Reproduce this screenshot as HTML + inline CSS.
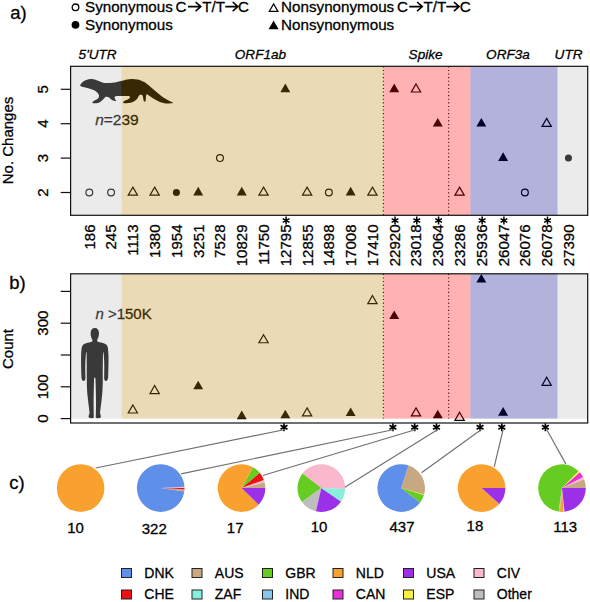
<!DOCTYPE html><html><head><meta charset="utf-8"><style>html,body{margin:0;padding:0;background:#fff;}svg{display:block;}</style></head><body>
<svg width="590" height="602" viewBox="0 0 590 602" style="font-family:&quot;Liberation Sans&quot;, sans-serif">
<style>text{stroke:#000;stroke-width:0.28px;paint-order:stroke}</style>
<rect width="590" height="602" fill="#fff"/>
<circle cx="75.5" cy="7.3" r="3.3" fill="none" stroke="#000" stroke-width="1.3"/>
<circle cx="75.5" cy="24.8" r="3.9" fill="#000"/>
<text x="85.0" y="11.9" font-size="15.2" fill="#000">Synonymous</text>
<text x="175.4" y="11.9" font-size="15.2" fill="#000">C</text>
<path d="M188.00,6.60 L200.80,6.60 M195.60,2.00 L200.80,6.60 L195.60,11.20" fill="none" stroke="#000" stroke-width="1.6" stroke-linejoin="miter"/>
<text x="202.2" y="11.9" font-size="15.2" fill="#000">T/T</text>
<path d="M225.30,6.60 L237.90,6.60 M232.70,2.00 L237.90,6.60 L232.70,11.20" fill="none" stroke="#000" stroke-width="1.6" stroke-linejoin="miter"/>
<text x="237.9" y="11.9" font-size="15.2" fill="#000">C</text>
<text x="85.0" y="30.1" font-size="15.2" fill="#000">Synonymous</text>
<polygon points="273.60,3.85 277.98,11.43 269.22,11.43" fill="none" stroke="#000" stroke-width="1.2"/>
<polygon points="273.60,20.55 278.58,29.18 268.62,29.18" fill="#000"/>
<text x="281.1" y="11.9" font-size="15.2" fill="#000">Nonsynonymous</text>
<text x="397.1" y="11.9" font-size="15.2" fill="#000">C</text>
<path d="M409.30,6.60 L422.30,6.60 M417.10,2.00 L422.30,6.60 L417.10,11.20" fill="none" stroke="#000" stroke-width="1.6" stroke-linejoin="miter"/>
<text x="423.4" y="11.9" font-size="15.2" fill="#000">T/T</text>
<path d="M446.30,6.60 L459.10,6.60 M453.90,2.00 L459.10,6.60 L453.90,11.20" fill="none" stroke="#000" stroke-width="1.6" stroke-linejoin="miter"/>
<text x="459.8" y="11.9" font-size="15.2" fill="#000">C</text>
<text x="281.1" y="30.1" font-size="15.2" fill="#000">Nonsynonymous</text>
<text x="10.2" y="19.0" font-size="18.5" fill="#000">a)</text>
<text x="9.2" y="289.2" font-size="18.5" fill="#000">b)</text>
<text x="9.2" y="488.8" font-size="18.5" fill="#000">c)</text>
<text x="78.6" y="59.3" font-size="13.6" font-style="italic" fill="#000">5'UTR</text>
<text x="234.8" y="59.3" font-size="13.6" font-style="italic" fill="#000">ORF1ab</text>
<text x="408.6" y="59.3" font-size="13.6" font-style="italic" fill="#000">Spike</text>
<text x="486.1" y="59.3" font-size="13.6" font-style="italic" fill="#000">ORF3a</text>
<text x="554.6" y="59.3" font-size="13.6" font-style="italic" fill="#000">UTR</text>
<path d="M80.20,85.20 C80.32,84.53 81.20,83.27 82.20,82.40 C83.20,81.53 84.70,80.57 86.20,80.00 C87.70,79.43 89.65,79.05 91.20,79.00 C92.75,78.95 93.95,79.23 95.50,79.70 C97.05,80.17 99.00,81.27 100.50,81.80 C102.00,82.33 102.53,82.73 104.50,82.90 C106.47,83.07 109.13,83.22 112.30,82.80 C115.47,82.38 120.40,81.02 123.50,80.40 C126.60,79.78 128.57,79.23 130.90,79.10 C133.23,78.97 135.68,79.28 137.50,79.60 C139.32,79.92 140.38,80.40 141.80,81.00 C143.22,81.60 144.08,81.83 146.00,83.20 C147.92,84.57 151.20,87.43 153.30,89.20 C155.40,90.97 157.05,92.50 158.60,93.80 C160.15,95.10 160.68,95.75 162.60,97.00 C164.52,98.25 168.38,100.30 170.10,101.30 C171.82,102.30 173.83,102.67 172.90,103.00 C171.97,103.33 167.15,103.70 164.50,103.30 C161.85,102.90 159.48,101.82 157.00,100.60 C154.52,99.38 151.28,97.07 149.60,96.00 C147.92,94.93 147.50,94.12 146.90,94.20 C146.30,94.28 146.23,95.35 146.00,96.50 C145.77,97.65 145.87,100.33 145.50,101.10 C145.13,101.87 144.25,101.92 143.80,101.10 C143.35,100.28 143.18,97.25 142.80,96.20 C142.42,95.15 142.08,94.97 141.50,94.80 C140.92,94.63 140.08,94.47 139.30,95.20 C138.52,95.93 138.10,97.97 136.80,99.20 C135.50,100.43 133.13,101.93 131.50,102.60 C129.87,103.27 128.33,103.13 127.00,103.20 C125.67,103.27 124.03,103.32 123.50,103.00 C122.97,102.68 122.92,102.00 123.80,101.30 C124.68,100.60 127.87,99.65 128.80,98.80 C129.73,97.95 130.60,96.65 129.40,96.20 C128.20,95.75 123.98,96.05 121.60,96.10 C119.22,96.15 116.18,95.98 115.10,96.50 C114.02,97.02 114.92,98.45 115.10,99.20 C115.28,99.95 116.67,100.83 116.20,101.00 C115.73,101.17 113.57,100.83 112.30,100.20 C111.03,99.57 109.65,97.77 108.60,97.20 C107.55,96.63 106.85,96.50 106.00,96.80 C105.15,97.10 104.70,98.00 103.50,99.00 C102.30,100.00 100.60,102.10 98.80,102.80 C97.00,103.50 93.60,103.45 92.70,103.20 C91.80,102.95 92.52,102.07 93.40,101.30 C94.28,100.53 97.07,99.57 98.00,98.60 C98.93,97.63 99.13,96.53 99.00,95.50 C98.87,94.47 98.12,93.32 97.20,92.40 C96.28,91.48 94.83,90.63 93.50,90.00 C92.17,89.37 90.58,89.03 89.20,88.60 C87.82,88.17 86.48,87.77 85.20,87.40 C83.92,87.03 82.33,86.77 81.50,86.40 C80.67,86.03 80.08,85.87 80.20,85.20 Z" fill="#000"/>
<text x="95.2" y="125.0" font-size="15.5" fill="#000"><tspan font-style="italic">n</tspan>=239</text>
<circle cx="89.30" cy="192.50" r="3.40" fill="none" stroke="#000" stroke-width="1.2"/>
<circle cx="111.08" cy="192.50" r="3.40" fill="none" stroke="#000" stroke-width="1.2"/>
<polygon points="132.86,187.13 137.51,195.18 128.21,195.18" fill="none" stroke="#000" stroke-width="1.2"/>
<polygon points="154.64,187.13 159.29,195.18 149.99,195.18" fill="none" stroke="#000" stroke-width="1.2"/>
<circle cx="176.42" cy="192.50" r="3.52" fill="#000"/>
<polygon points="198.20,186.75 203.18,195.38 193.22,195.38" fill="#000"/>
<circle cx="219.98" cy="158.10" r="3.40" fill="none" stroke="#000" stroke-width="1.2"/>
<polygon points="241.76,186.75 246.74,195.38 236.78,195.38" fill="#000"/>
<polygon points="263.54,187.13 268.19,195.18 258.89,195.18" fill="none" stroke="#000" stroke-width="1.2"/>
<polygon points="285.32,83.55 290.30,92.18 280.34,92.18" fill="#000"/>
<polygon points="307.10,187.13 311.75,195.18 302.45,195.18" fill="none" stroke="#000" stroke-width="1.2"/>
<circle cx="328.88" cy="192.50" r="3.40" fill="none" stroke="#000" stroke-width="1.2"/>
<polygon points="350.66,186.75 355.64,195.38 345.68,195.38" fill="#000"/>
<polygon points="372.44,187.13 377.09,195.18 367.79,195.18" fill="none" stroke="#000" stroke-width="1.2"/>
<polygon points="394.22,83.55 399.20,92.18 389.24,92.18" fill="#000"/>
<polygon points="416.00,83.93 420.65,91.98 411.35,91.98" fill="none" stroke="#000" stroke-width="1.2"/>
<polygon points="437.78,117.95 442.76,126.58 432.80,126.58" fill="#000"/>
<polygon points="459.56,187.13 464.21,195.18 454.91,195.18" fill="none" stroke="#000" stroke-width="1.2"/>
<polygon points="481.34,117.95 486.32,126.58 476.36,126.58" fill="#000"/>
<polygon points="503.12,152.35 508.10,160.98 498.14,160.98" fill="#000"/>
<circle cx="524.90" cy="192.50" r="3.40" fill="none" stroke="#000" stroke-width="1.2"/>
<polygon points="546.68,118.33 551.33,126.38 542.03,126.38" fill="none" stroke="#000" stroke-width="1.2"/>
<circle cx="568.46" cy="158.10" r="3.52" fill="#000"/>
<line x1="383.33" y1="66.3" x2="383.33" y2="215.3" stroke="#000" stroke-width="1.1" stroke-dasharray="1.1,2.5"/>
<line x1="448.67" y1="66.3" x2="448.67" y2="215.3" stroke="#000" stroke-width="1.1" stroke-dasharray="1.1,2.5"/>
<rect x="70.60" y="66.30" width="50.97" height="149.00" fill="rgb(190,190,190)" fill-opacity="0.3"/>
<rect x="121.57" y="66.30" width="261.76" height="149.00" fill="rgb(184,134,11)" fill-opacity="0.3"/>
<rect x="383.33" y="66.30" width="87.12" height="149.00" fill="rgb(255,0,0)" fill-opacity="0.3"/>
<rect x="470.45" y="66.30" width="87.12" height="149.00" fill="rgb(0,0,139)" fill-opacity="0.3"/>
<rect x="557.57" y="66.30" width="30.13" height="149.00" fill="rgb(190,190,190)" fill-opacity="0.3"/>
<rect x="70.6" y="66.3" width="517.10" height="149.00" fill="none" stroke="#111" stroke-width="1.2"/>
<line x1="60.7" y1="192.50" x2="70.6" y2="192.50" stroke="#111" stroke-width="1.2"/>
<text transform="translate(48.3,192.50) rotate(-90)" text-anchor="middle" font-size="15" fill="#000">2</text>
<line x1="60.7" y1="158.10" x2="70.6" y2="158.10" stroke="#111" stroke-width="1.2"/>
<text transform="translate(48.3,158.10) rotate(-90)" text-anchor="middle" font-size="15" fill="#000">3</text>
<line x1="60.7" y1="123.70" x2="70.6" y2="123.70" stroke="#111" stroke-width="1.2"/>
<text transform="translate(48.3,123.70) rotate(-90)" text-anchor="middle" font-size="15" fill="#000">4</text>
<line x1="60.7" y1="89.30" x2="70.6" y2="89.30" stroke="#111" stroke-width="1.2"/>
<text transform="translate(48.3,89.30) rotate(-90)" text-anchor="middle" font-size="15" fill="#000">5</text>
<text transform="translate(13.3,140.5) rotate(-90)" text-anchor="middle" font-size="15" fill="#000">No. Changes</text>
<text transform="translate(94.70,224.5) rotate(-90)" text-anchor="end" font-size="15" fill="#000">186</text>
<text transform="translate(116.48,224.5) rotate(-90)" text-anchor="end" font-size="15" fill="#000">245</text>
<text transform="translate(138.26,224.5) rotate(-90)" text-anchor="end" font-size="15" fill="#000">1113</text>
<text transform="translate(160.04,224.5) rotate(-90)" text-anchor="end" font-size="15" fill="#000">1380</text>
<text transform="translate(181.82,224.5) rotate(-90)" text-anchor="end" font-size="15" fill="#000">1954</text>
<text transform="translate(203.60,224.5) rotate(-90)" text-anchor="end" font-size="15" fill="#000">3251</text>
<text transform="translate(225.38,224.5) rotate(-90)" text-anchor="end" font-size="15" fill="#000">7528</text>
<text transform="translate(247.16,224.5) rotate(-90)" text-anchor="end" font-size="15" fill="#000">10829</text>
<text transform="translate(268.94,224.5) rotate(-90)" text-anchor="end" font-size="15" fill="#000">11750</text>
<text transform="translate(290.72,224.5) rotate(-90)" text-anchor="end" font-size="15" fill="#000">12795</text>
<path d="M286.12,216.60 L286.12,224.40 M282.74,218.55 L289.50,222.45 M289.50,218.55 L282.74,222.45 " stroke="#000" stroke-width="1.5" fill="none"/>
<text transform="translate(312.50,224.5) rotate(-90)" text-anchor="end" font-size="15" fill="#000">12855</text>
<text transform="translate(334.28,224.5) rotate(-90)" text-anchor="end" font-size="15" fill="#000">14898</text>
<text transform="translate(356.06,224.5) rotate(-90)" text-anchor="end" font-size="15" fill="#000">17008</text>
<text transform="translate(377.84,224.5) rotate(-90)" text-anchor="end" font-size="15" fill="#000">17410</text>
<text transform="translate(399.62,224.5) rotate(-90)" text-anchor="end" font-size="15" fill="#000">22920</text>
<path d="M395.02,216.60 L395.02,224.40 M391.64,218.55 L398.40,222.45 M398.40,218.55 L391.64,222.45 " stroke="#000" stroke-width="1.5" fill="none"/>
<text transform="translate(421.40,224.5) rotate(-90)" text-anchor="end" font-size="15" fill="#000">23018</text>
<path d="M416.80,216.60 L416.80,224.40 M413.42,218.55 L420.18,222.45 M420.18,218.55 L413.42,222.45 " stroke="#000" stroke-width="1.5" fill="none"/>
<text transform="translate(443.18,224.5) rotate(-90)" text-anchor="end" font-size="15" fill="#000">23064</text>
<path d="M438.58,216.60 L438.58,224.40 M435.20,218.55 L441.96,222.45 M441.96,218.55 L435.20,222.45 " stroke="#000" stroke-width="1.5" fill="none"/>
<text transform="translate(464.96,224.5) rotate(-90)" text-anchor="end" font-size="15" fill="#000">23286</text>
<text transform="translate(486.74,224.5) rotate(-90)" text-anchor="end" font-size="15" fill="#000">25936</text>
<path d="M482.14,216.60 L482.14,224.40 M478.76,218.55 L485.52,222.45 M485.52,218.55 L478.76,222.45 " stroke="#000" stroke-width="1.5" fill="none"/>
<text transform="translate(508.52,224.5) rotate(-90)" text-anchor="end" font-size="15" fill="#000">26047</text>
<path d="M503.92,216.60 L503.92,224.40 M500.54,218.55 L507.30,222.45 M507.30,218.55 L500.54,222.45 " stroke="#000" stroke-width="1.5" fill="none"/>
<text transform="translate(530.30,224.5) rotate(-90)" text-anchor="end" font-size="15" fill="#000">26076</text>
<text transform="translate(552.08,224.5) rotate(-90)" text-anchor="end" font-size="15" fill="#000">26078</text>
<path d="M547.48,216.60 L547.48,224.40 M544.10,218.55 L550.86,222.45 M550.86,218.55 L544.10,222.45 " stroke="#000" stroke-width="1.5" fill="none"/>
<text transform="translate(573.86,224.5) rotate(-90)" text-anchor="end" font-size="15" fill="#000">27390</text>
<path d="M94.8,328 C97.5,328 99,330 99,333.3 C99,336.5 97.8,339 97.2,339.8 L97.3,341.6 C100,342.5 104,343 106.5,344.8 C108,346.3 108.3,350 108.5,356 C108.6,365 108.3,372 108.2,376 C108.3,378.5 107.5,381 106,381 C104.3,381 104,378.5 104.2,376 C104.3,370 104.5,364 103.8,355 C103.5,352 103.2,351 103,353 C102.8,362 102.8,372 102.8,378 C102.8,385 102.5,392 101.8,398 C101,405 100.3,410 100,413 C100.5,415 101.5,416.5 100.5,417.8 C99,418.3 96.5,418.3 95.8,417.8 C95.8,414 96,410 96,405 C96,398 95.8,388 95.5,379 C95.3,377 94.3,377 94.1,379 C93.8,388 93.6,398 93.6,405 C93.6,410 93.8,414 93.8,417.8 C93,418.3 90.5,418.3 89,417.8 C88,416.5 89,415 89.6,413 C89.3,410 88.6,405 87.8,398 C87,392 86.8,385 86.8,378 C86.8,372 86.8,362 86.6,353 C86.4,351 86,352 85.8,355 C85.1,364 85.3,370 85.4,376 C85.6,378.5 85.3,381 83.6,381 C82,381 81.3,378.5 81.4,376 C81.3,372 81,365 81.1,356 C81.3,350 81.6,346.3 83.1,344.8 C85.6,343 89.6,342.5 92.3,341.6 L92.4,339.8 C91.8,339 90.6,336.5 90.6,333.3 C90.6,330 92.1,328 94.8,328 Z" fill="#000"/>
<text x="95.4" y="318.6" font-size="15" fill="#000"><tspan font-style="italic">n</tspan> &gt;150K</text>
<polygon points="132.86,404.97 137.51,413.01 128.21,413.01" fill="none" stroke="#000" stroke-width="1.2"/>
<polygon points="154.64,385.57 159.29,393.62 149.99,393.62" fill="none" stroke="#000" stroke-width="1.2"/>
<polygon points="198.20,380.73 203.18,389.36 193.22,389.36" fill="#000"/>
<polygon points="241.76,410.62 246.74,419.25 236.78,419.25" fill="#000"/>
<polygon points="263.54,334.69 268.19,342.74 258.89,342.74" fill="none" stroke="#000" stroke-width="1.2"/>
<polygon points="285.32,409.67 290.30,418.30 280.34,418.30" fill="#000"/>
<polygon points="307.10,407.83 311.75,415.88 302.45,415.88" fill="none" stroke="#000" stroke-width="1.2"/>
<polygon points="350.66,407.44 355.64,416.07 345.68,416.07" fill="#000"/>
<polygon points="372.44,295.57 377.09,303.62 367.79,303.62" fill="none" stroke="#000" stroke-width="1.2"/>
<polygon points="394.22,310.45 399.20,319.08 389.24,319.08" fill="#000"/>
<polygon points="416.00,407.83 420.65,415.88 411.35,415.88" fill="none" stroke="#000" stroke-width="1.2"/>
<polygon points="437.78,409.67 442.76,418.30 432.80,418.30" fill="#000"/>
<polygon points="459.56,412.28 464.21,420.33 454.91,420.33" fill="none" stroke="#000" stroke-width="1.2"/>
<polygon points="481.34,273.88 486.32,282.51 476.36,282.51" fill="#000"/>
<polygon points="503.12,407.12 508.10,415.75 498.14,415.75" fill="#000"/>
<polygon points="546.68,377.30 551.33,385.35 542.03,385.35" fill="none" stroke="#000" stroke-width="1.2"/>
<line x1="383.33" y1="273.8" x2="383.33" y2="418.60" stroke="#000" stroke-width="1.1" stroke-dasharray="1.1,2.5"/>
<line x1="448.67" y1="273.8" x2="448.67" y2="418.60" stroke="#000" stroke-width="1.1" stroke-dasharray="1.1,2.5"/>
<rect x="70.60" y="273.80" width="50.97" height="144.80" fill="rgb(190,190,190)" fill-opacity="0.3"/>
<rect x="121.57" y="273.80" width="261.76" height="144.80" fill="rgb(184,134,11)" fill-opacity="0.3"/>
<rect x="383.33" y="273.80" width="87.12" height="144.80" fill="rgb(255,0,0)" fill-opacity="0.3"/>
<rect x="470.45" y="273.80" width="87.12" height="144.80" fill="rgb(0,0,139)" fill-opacity="0.3"/>
<rect x="557.57" y="273.80" width="30.13" height="144.80" fill="rgb(190,190,190)" fill-opacity="0.3"/>
<rect x="70.6" y="273.8" width="517.10" height="149.20" fill="none" stroke="#111" stroke-width="1.2"/>
<line x1="60.7" y1="418.60" x2="70.6" y2="418.60" stroke="#111" stroke-width="1.2"/>
<line x1="60.7" y1="386.80" x2="70.6" y2="386.80" stroke="#111" stroke-width="1.2"/>
<line x1="60.7" y1="355.00" x2="70.6" y2="355.00" stroke="#111" stroke-width="1.2"/>
<line x1="60.7" y1="323.20" x2="70.6" y2="323.20" stroke="#111" stroke-width="1.2"/>
<line x1="60.7" y1="291.40" x2="70.6" y2="291.40" stroke="#111" stroke-width="1.2"/>
<text transform="translate(48.3,418.60) rotate(-90)" text-anchor="middle" font-size="15" fill="#000">0</text>
<text transform="translate(48.3,386.80) rotate(-90)" text-anchor="middle" font-size="15" fill="#000">100</text>
<text transform="translate(48.3,323.20) rotate(-90)" text-anchor="middle" font-size="15" fill="#000">300</text>
<text transform="translate(13.3,349) rotate(-90)" text-anchor="middle" font-size="15" fill="#000">Count</text>
<path d="M284.02,423.20 L284.02,431.20 M280.56,425.20 L287.48,429.20 M287.48,425.20 L280.56,429.20 " stroke="#000" stroke-width="1.6" fill="none"/>
<path d="M392.92,423.20 L392.92,431.20 M389.46,425.20 L396.38,429.20 M396.38,425.20 L389.46,429.20 " stroke="#000" stroke-width="1.6" fill="none"/>
<path d="M414.70,423.20 L414.70,431.20 M411.24,425.20 L418.16,429.20 M418.16,425.20 L411.24,429.20 " stroke="#000" stroke-width="1.6" fill="none"/>
<path d="M436.48,423.20 L436.48,431.20 M433.02,425.20 L439.94,429.20 M439.94,425.20 L433.02,429.20 " stroke="#000" stroke-width="1.6" fill="none"/>
<path d="M480.04,423.20 L480.04,431.20 M476.58,425.20 L483.50,429.20 M483.50,425.20 L476.58,429.20 " stroke="#000" stroke-width="1.6" fill="none"/>
<path d="M501.82,423.20 L501.82,431.20 M498.36,425.20 L505.28,429.20 M505.28,425.20 L498.36,429.20 " stroke="#000" stroke-width="1.6" fill="none"/>
<path d="M545.38,423.20 L545.38,431.20 M541.92,425.20 L548.84,429.20 M548.84,425.20 L541.92,429.20 " stroke="#000" stroke-width="1.6" fill="none"/>
<line x1="285.32" y1="429.5" x2="95.6" y2="468.0" stroke="#707070" stroke-width="1.15"/>
<line x1="394.22" y1="429.5" x2="181" y2="473.9" stroke="#707070" stroke-width="1.15"/>
<line x1="416.00" y1="429.5" x2="262.7" y2="475.5" stroke="#707070" stroke-width="1.15"/>
<line x1="437.78" y1="429.5" x2="344.5" y2="487.5" stroke="#707070" stroke-width="1.15"/>
<line x1="481.34" y1="429.5" x2="421.5" y2="472.8" stroke="#707070" stroke-width="1.15"/>
<line x1="503.12" y1="429.5" x2="494.2" y2="466.8" stroke="#707070" stroke-width="1.15"/>
<line x1="546.68" y1="429.5" x2="565.8" y2="463.9" stroke="#707070" stroke-width="1.15"/>
<circle cx="80.6" cy="488.1" r="23.8" fill="#f9a12e"/>
<path d="M160.7,488.1 L184.27,491.41 A23.8,23.8 0 0 0 184.47,489.35 Z" fill="#c8a882"/>
<path d="M160.7,488.1 L184.47,489.35 A23.8,23.8 0 0 0 184.50,487.68 Z" fill="#ee1111"/>
<path d="M160.7,488.1 L184.50,487.68 A23.8,23.8 0 0 0 184.47,486.85 Z" fill="#f9b8cc"/>
<path d="M160.7,488.1 L184.47,486.85 A23.8,23.8 0 1 0 184.27,491.41 Z" fill="#5f8fe8"/>
<path d="M241.5,488.1 L265.30,488.10 A23.8,23.8 0 0 0 264.59,482.34 Z" fill="#c8a882"/>
<path d="M241.5,488.1 L264.59,482.34 A23.8,23.8 0 0 0 263.86,479.96 Z" fill="#f9b8cc"/>
<path d="M241.5,488.1 L263.86,479.96 A23.8,23.8 0 0 0 259.73,472.80 Z" fill="#ee1111"/>
<path d="M241.5,488.1 L259.73,472.80 A23.8,23.8 0 0 0 253.04,467.28 Z" fill="#66cc22"/>
<path d="M241.5,488.1 L253.04,467.28 A23.8,23.8 0 1 0 258.62,504.63 Z" fill="#f9a12e"/>
<path d="M241.5,488.1 L258.62,504.63 A23.8,23.8 0 0 0 265.30,488.10 Z" fill="#9b30e8"/>
<path d="M321.3,488.1 L345.09,488.93 A23.8,23.8 0 0 0 302.55,473.45 Z" fill="#f9b8cc"/>
<path d="M321.3,488.1 L302.55,473.45 A23.8,23.8 0 0 0 302.05,502.09 Z" fill="#66cc22"/>
<path d="M321.3,488.1 L302.05,502.09 A23.8,23.8 0 0 0 315.95,511.29 Z" fill="#bdbdbd"/>
<path d="M321.3,488.1 L315.95,511.29 A23.8,23.8 0 0 0 341.03,501.41 Z" fill="#9b30e8"/>
<path d="M321.3,488.1 L341.03,501.41 A23.8,23.8 0 0 0 345.09,488.93 Z" fill="#88eedd"/>
<path d="M401.2,488.1 L423.96,495.06 A23.8,23.8 0 0 0 408.55,465.46 Z" fill="#c8a882"/>
<path d="M401.2,488.1 L408.55,465.46 A23.8,23.8 0 1 0 420.21,502.42 Z" fill="#5f8fe8"/>
<path d="M401.2,488.1 L420.21,502.42 A23.8,23.8 0 0 0 423.96,495.06 Z" fill="#66cc22"/>
<path d="M401.2,488.1 L423.96,495.06 A23.8,23.8 0 0 0 424.19,494.26 Z" fill="#f8f040"/>
<path d="M481.6,488.1 L505.40,488.10 A23.8,23.8 0 1 0 499.29,504.03 Z" fill="#f9a12e"/>
<path d="M481.6,488.1 L499.29,504.03 A23.8,23.8 0 0 0 505.40,488.10 Z" fill="#9b30e8"/>
<path d="M562.0,488.1 L585.80,488.10 A23.8,23.8 0 0 0 584.07,479.18 Z" fill="#c8a882"/>
<path d="M562.0,488.1 L584.07,479.18 A23.8,23.8 0 0 0 583.01,476.93 Z" fill="#f9b8cc"/>
<path d="M562.0,488.1 L583.01,476.93 A23.8,23.8 0 0 0 579.69,472.17 Z" fill="#e830d8"/>
<path d="M562.0,488.1 L579.69,472.17 A23.8,23.8 0 0 0 578.53,470.98 Z" fill="#f8f040"/>
<path d="M562.0,488.1 L578.53,470.98 A23.8,23.8 0 1 0 558.69,511.67 Z" fill="#66cc22"/>
<path d="M562.0,488.1 L558.69,511.67 A23.8,23.8 0 0 0 559.93,511.81 Z" fill="#bdbdbd"/>
<path d="M562.0,488.1 L559.93,511.81 A23.8,23.8 0 0 0 563.66,511.84 Z" fill="#f9a12e"/>
<path d="M562.0,488.1 L563.66,511.84 A23.8,23.8 0 0 0 564.49,511.77 Z" fill="#f9b8cc"/>
<path d="M562.0,488.1 L564.49,511.77 A23.8,23.8 0 0 0 585.80,488.10 Z" fill="#9b30e8"/>
<text x="75.6" y="533.3" text-anchor="middle" font-size="15" fill="#000">10</text>
<text x="154.3" y="533.6" text-anchor="middle" font-size="15" fill="#000">322</text>
<text x="235.2" y="533.3" text-anchor="middle" font-size="15" fill="#000">17</text>
<text x="319" y="532.2" text-anchor="middle" font-size="15" fill="#000">10</text>
<text x="402" y="532.2" text-anchor="middle" font-size="15" fill="#000">437</text>
<text x="474.9" y="530.8" text-anchor="middle" font-size="15" fill="#000">18</text>
<text x="565.2" y="531.8" text-anchor="middle" font-size="15" fill="#000">113</text>
<rect x="121.50" y="568.50" width="10" height="9" fill="#5f8fe8" stroke="#222" stroke-width="1"/>
<text x="144.30" y="577.80" font-size="14" fill="#000">DNK</text>
<rect x="121.50" y="590.00" width="10" height="9" fill="#ee1111" stroke="#222" stroke-width="1"/>
<text x="144.30" y="599.30" font-size="14" fill="#000">CHE</text>
<rect x="192.00" y="568.50" width="10" height="9" fill="#c8a882" stroke="#222" stroke-width="1"/>
<text x="214.80" y="577.80" font-size="14" fill="#000">AUS</text>
<rect x="192.00" y="590.00" width="10" height="9" fill="#88eedd" stroke="#222" stroke-width="1"/>
<text x="214.80" y="599.30" font-size="14" fill="#000">ZAF</text>
<rect x="262.50" y="568.50" width="10" height="9" fill="#66cc22" stroke="#222" stroke-width="1"/>
<text x="285.30" y="577.80" font-size="14" fill="#000">GBR</text>
<rect x="262.50" y="590.00" width="10" height="9" fill="#88c8ee" stroke="#222" stroke-width="1"/>
<text x="285.30" y="599.30" font-size="14" fill="#000">IND</text>
<rect x="333.00" y="568.50" width="10" height="9" fill="#f9a12e" stroke="#222" stroke-width="1"/>
<text x="355.80" y="577.80" font-size="14" fill="#000">NLD</text>
<rect x="333.00" y="590.00" width="10" height="9" fill="#e830d8" stroke="#222" stroke-width="1"/>
<text x="355.80" y="599.30" font-size="14" fill="#000">CAN</text>
<rect x="403.50" y="568.50" width="10" height="9" fill="#9b30e8" stroke="#222" stroke-width="1"/>
<text x="426.30" y="577.80" font-size="14" fill="#000">USA</text>
<rect x="403.50" y="590.00" width="10" height="9" fill="#f8f040" stroke="#222" stroke-width="1"/>
<text x="426.30" y="599.30" font-size="14" fill="#000">ESP</text>
<rect x="474.00" y="568.50" width="10" height="9" fill="#f9b8cc" stroke="#222" stroke-width="1"/>
<text x="496.80" y="577.80" font-size="14" fill="#000">CIV</text>
<rect x="474.00" y="590.00" width="10" height="9" fill="#bdbdbd" stroke="#222" stroke-width="1"/>
<text x="496.80" y="599.30" font-size="14" fill="#000">Other</text>
</svg>
</body></html>
